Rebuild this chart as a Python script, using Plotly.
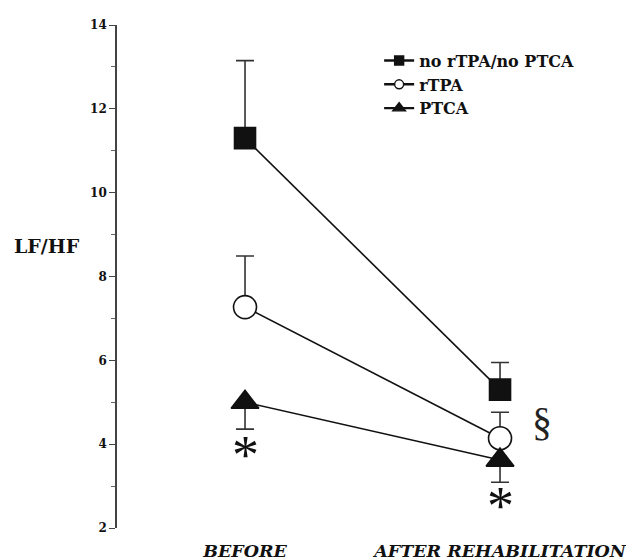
import plotly.graph_objects as go

categories = ["BEFORE", "AFTER REHABILITATION"]
series_names = ["no rTPA/no PTCA", "rTPA", "PTCA"]
none_vals = [11.3, 5.3]
none_err_up = [1.85, 0.65]
rtpa_vals = [7.27, 4.14]
rtpa_err_up = [1.22, 0.62]
ptca_vals = [5.0, 3.62]
ptca_err_down = [0.64, 0.53]
y_ticks = [2, 4, 6, 8, 10, 12, 14]

xpos = [0, 1]
SERIF = "DejaVu Serif"
INK = "#111111"

fig = go.Figure()

def add_series(name, vals, symbol, size, fill, up=None, down=None, legend_size=10):
    err = dict(type="data", symmetric=False,
               array=up if up else [0, 0],
               arrayminus=down if down else [0, 0],
               color="#333333", thickness=1.6, width=9)
    fig.add_trace(go.Scatter(
        x=xpos, y=vals, mode="lines+markers", showlegend=False,
        line=dict(color=INK, width=1.6),
        marker=dict(symbol=symbol, size=size, color=fill,
                    line=dict(color=INK, width=1.6)),
        error_y=err, cliponaxis=False))
    fig.add_trace(go.Scatter(
        x=[None], y=[None], mode="lines+markers", name=name,
        line=dict(color=INK, width=2.4),
        marker=dict(symbol=symbol, size=legend_size, color=fill,
                    line=dict(color=INK, width=1.4))))

add_series(series_names[0], none_vals, "square", 21, INK, up=none_err_up, legend_size=9)
add_series(series_names[1], rtpa_vals, "circle", 23, "white", up=rtpa_err_up, legend_size=9)
add_series(series_names[2], ptca_vals, "triangle-up", 24, INK, down=ptca_err_down, legend_size=11)

# significance marks
fig.add_annotation(x=0, y=3.75, text="*", showarrow=False,
                   font=dict(family="Liberation Serif", size=54, color=INK))
fig.add_annotation(x=1, y=2.52, text="*", showarrow=False,
                   font=dict(family="Liberation Serif", size=54, color=INK))
fig.add_annotation(x=1.165, y=4.53, text="§", showarrow=False,
                   font=dict(family="Liberation Serif", size=40, color="#222222"))
fig.add_annotation(xref="paper", yref="paper", x=-0.1375, y=0.56,
                   text="LF/HF", showarrow=False, xanchor="center",
                   font=dict(family=SERIF, size=19, color=INK, weight="bold"))

fig.update_layout(
    width=626, height=560,
    margin=dict(l=117, r=0, t=25, b=32),
    paper_bgcolor="white", plot_bgcolor="white",
    showlegend=True,
    legend=dict(x=0.515, y=0.963, xanchor="left", yanchor="top",
                bgcolor="rgba(0,0,0,0)", tracegroupgap=0,
                font=dict(family=SERIF, size=16, color=INK, weight="bold")),
    xaxis=dict(range=[-0.502, 1.494], tickvals=xpos, ticktext=categories,
               showgrid=False, zeroline=False, showline=False, ticks="",
               ticklabelstandoff=10, ticklabeloverflow="allow",
               tickfont=dict(family=SERIF, size=17.5, color=INK,
                             weight="bold", style="italic")),
    yaxis=dict(range=[2, 14], tickvals=y_ticks, showgrid=False, zeroline=False,
               showline=True, linecolor="#444444", linewidth=1.6,
               ticks="outside", ticklen=6, tickwidth=1.4, tickcolor="#444444",
               minor=dict(dtick=1, tick0=1, ticks="outside", ticklen=4,
                          tickcolor="#666666", tickwidth=1),
               tickfont=dict(family=SERIF, size=12, color=INK, weight="bold")),
)

fig.write_html("out.html")
